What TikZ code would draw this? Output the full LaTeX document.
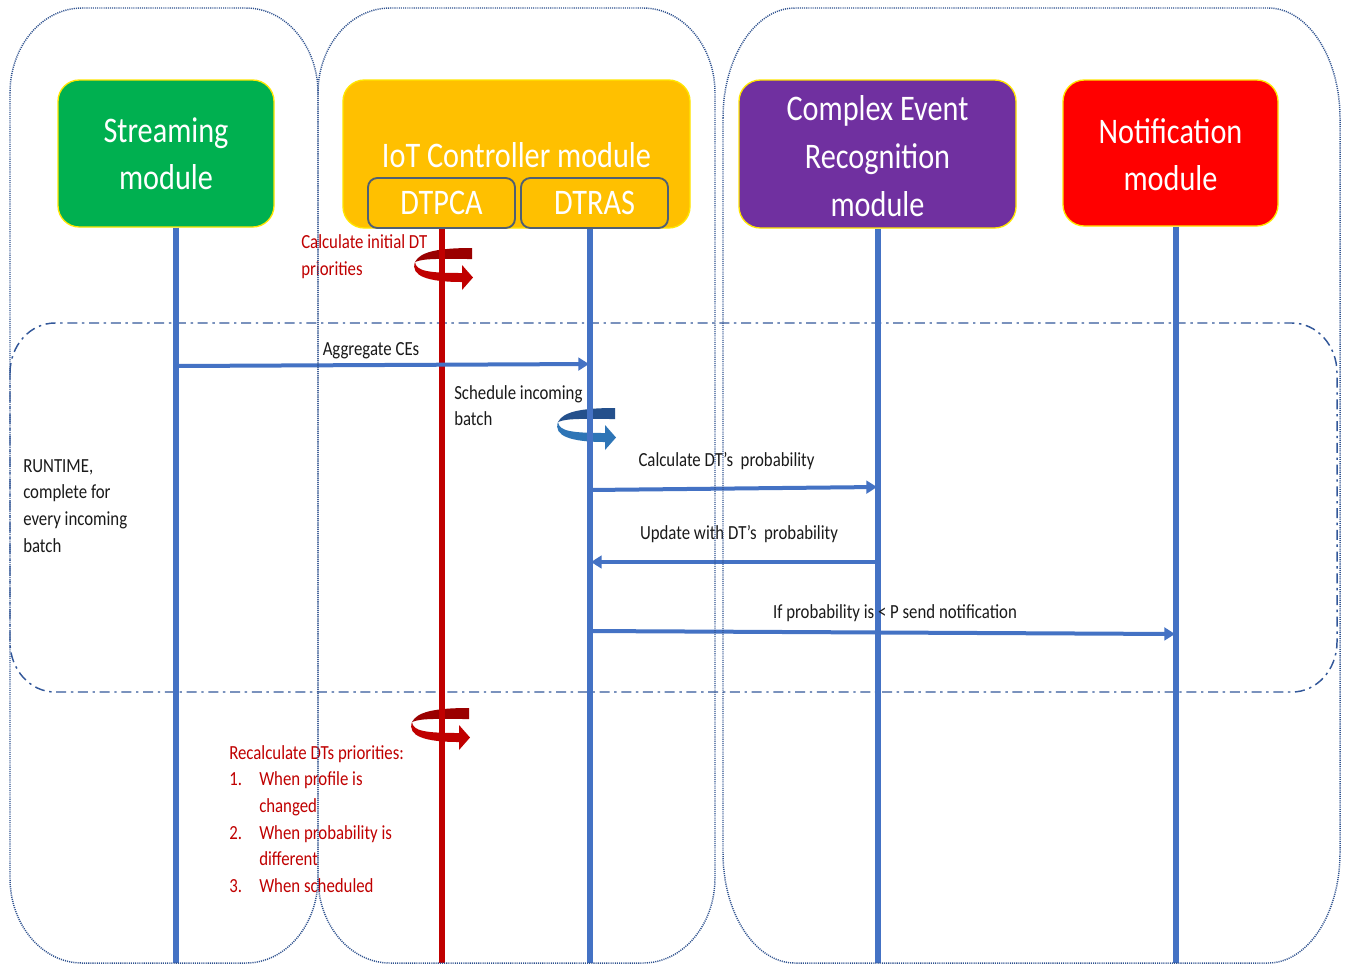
\documentclass[tikz,border=0pt]{standalone}
\usepackage{fontspec}
\setmainfont[FakeStretch=0.84]{Carlito}
\usetikzlibrary{arrows.meta}

\definecolor{lanecol}{HTML}{2F528F}
\definecolor{flowblue}{HTML}{4472C4}
\definecolor{ctrlred}{HTML}{C00000}
\definecolor{loopdarkred}{HTML}{9A0000}
\definecolor{loopdarkblue}{HTML}{24508C}
\definecolor{loopblue}{HTML}{2E75B6}
\definecolor{strgreen}{HTML}{00B050}
\definecolor{iotyellow}{HTML}{FFC000}
\definecolor{cerpurple}{HTML}{7030A0}
\definecolor{notifred}{HTML}{FF0000}
\definecolor{edgeyellow}{HTML}{FFE600}
\definecolor{subedge}{HTML}{4F5F73}
\definecolor{msgtext}{HTML}{1A1A1A}

\newcommand\bigfont{\fontsize{27}{35.5}\selectfont}
\newcommand\smallfont{\fontsize{15}{20}\selectfont}

% rounded frame with elliptical corners: style, x1, y1, x2, y2, rx, ry
\newcommand\lanebox[7]{%
  \draw[#1] (#2,{#3+#7}) .. controls (#2,{#3+0.448*#7}) and ({#2+0.448*#6},#3) .. ({#2+#6},#3)
    -- ({#4-#6},#3) .. controls ({#4-0.448*#6},#3) and (#4,{#3+0.448*#7}) .. (#4,{#3+#7})
    -- (#4,{#5-#7}) .. controls (#4,{#5-0.448*#7}) and ({#4-0.448*#6},#5) .. ({#4-#6},#5)
    -- ({#2+#6},#5) .. controls ({#2+0.448*#6},#5) and (#2,{#5-0.448*#7}) .. (#2,{#5-#7}) -- cycle;}

% ribbon-style turning arrow around a lifeline: x, y, back colour, front colour
\newcommand\turnloop[4]{%
  \fill[#3] ({#1+30},{#2-18}) .. controls ({#1-5},{#2-18}) and ({#1-22},{#2-14}) .. ({#1-27},{#2-4})
    .. controls ({#1-18},{#2-8}) and ({#1},{#2-7}) .. ({#1+30},{#2-7}) -- cycle;
  \fill[#4] ({#1-27},{#2-4}) .. controls ({#1-26},{#2+5}) and ({#1-14},{#2+7}) .. ({#1+20},{#2+7})
    -- ({#1+20},{#2-1}) -- ({#1+31},{#2+11.5}) -- ({#1+20},{#2+24}) -- ({#1+20},{#2+16})
    .. controls ({#1-14},{#2+16}) and ({#1-32},{#2+10}) .. ({#1-27},{#2-4}) -- cycle;}

\begin{document}
\begin{tikzpicture}[x=0.75pt,y=-0.75pt,
  lane/.style={draw=lanecol, line width=1.1pt, dash pattern=on 0.8pt off 0.8pt},
  runtime/.style={draw=lanecol!80!flowblue, line width=1.1pt, dash pattern=on 7.5pt off 3.5pt on 1.8pt off 3.5pt},
  modbox/.style={rounded corners=16pt, draw=edgeyellow, line width=1pt, text=white, font=\bigfont, align=center, inner sep=0},
  subbox/.style={rounded corners=7pt, draw=subedge, line width=1.4pt, fill=iotyellow, text=white, font=\bigfont, minimum width=110.25pt, minimum height=37.5pt, inner sep=0},
  lifeline/.style={draw=flowblue, line width=3.8pt},
  ctrlline/.style={draw=ctrlred, line width=3.9pt},
  msg/.style={draw=flowblue, line width=3pt, -{Triangle[length=8pt,width=9.5pt]}},
  msgtext/.style={text=msgtext, font=\smallfont, inner sep=0},
  redtext/.style={text=ctrlred, font=\smallfont, inner sep=0, align=left},
]
\fill[white] (0,0) rectangle (1345,965);
\useasboundingbox (0,0) rectangle (1345,965);

% runtime region
\lanebox{runtime}{10}{323}{1337}{692}{45}{50}

% self-activations
\turnloop{442}{266}{loopdarkred}{ctrlred}
\turnloop{585}{426}{loopdarkblue}{loopblue}
\turnloop{439}{726}{loopdarkred}{ctrlred}

% modules
\node[modbox, fill=strgreen, minimum width=162pt, minimum height=110.25pt] (stream) at (166,153.5) {Streaming\\module};
\node[modbox, fill=iotyellow, minimum width=260.25pt, minimum height=111pt] (iot) at (516.5,154) {};
\node[text=white, font=\bigfont, inner sep=0] (iottitle) at (516.5,155) {IoT Controller module};
\node[subbox] (dtpca) at (441.5,203) {DTPCA};
\node[subbox] (dtras) at (594.5,203) {DTRAS};
\node[modbox, fill=cerpurple, minimum width=207.75pt, minimum height=111pt] (cer) at (877.5,154) {};
\node[text=white, font=\fontsize{27}{36}\selectfont, align=center, inner sep=0] (certitle) at (877.5,156) {Complex Event\\Recognition\\module};
\node[modbox, fill=notifred, minimum width=161.25pt, minimum height=109.5pt] (notif) at (1170.5,153) {};
\node[text=white, font=\bigfont, align=center, inner sep=0] (notiftitle) at (1170.5,155) {Notification\\module};

% lifelines
\coordinate (sBot) at (176,963);
\coordinate (pBot) at (442,963);
\coordinate (rBot) at (590,963);
\coordinate (cBot) at (878,963);
\coordinate (nBot) at (1176,963);
\draw[lifeline] (stream.south -| sBot) -- (sBot);
\draw[ctrlline] (dtpca.south -| pBot) -- (pBot);
\draw[lifeline] (dtras.south -| rBot) -- (rBot);
\draw[lifeline] (cer.south -| cBot) -- (cBot);
\draw[lifeline] (notif.south -| nBot) -- (nBot);

% messages
\coordinate (aggFrom) at (176,366);  \coordinate (aggTo) at (589,364);
\coordinate (calcFrom) at (590,490); \coordinate (calcTo) at (877,487);
\coordinate (updFrom) at (878,562);  \coordinate (updTo) at (591,562);
\coordinate (ntfFrom) at (590,631);  \coordinate (ntfTo) at (1175,634);
\draw[msg] (aggFrom) -- (aggTo);
\draw[msg] (calcFrom) -- (calcTo);
\draw[msg] (updFrom) -- (updTo);
\draw[msg] (ntfFrom) -- (ntfTo);

% labels
\node[msgtext, anchor=base] (aggLbl) at (371,355) {Aggregate CEs};
\node[msgtext, anchor=base] (calcLbl) at (726.5,466) {Calculate DT’s\ \ probability};
\node[msgtext, anchor=base] (updLbl) at (739,539) {Update with DT’s\ \ probability};
\node[msgtext, anchor=base] (ntfLbl) at (895,618) {If probability is < P send notification};
\node[msgtext, anchor=north west, align=left] (schedLbl) at (454,380.3) {\strut Schedule incoming\\batch};
\node[msgtext, anchor=north west, align=left] (runLbl) at (23,453.3) {\strut RUNTIME,\\complete for\\every incoming\\batch};
\node[redtext, anchor=north west] (initLbl) at (301,229.8) {\strut Calculate initial DT\\priorities};
\node[redtext, anchor=north west] (recalcLbl) at (229,740.3) {\strut Recalculate DTs priorities:\\
  \makebox[22.5pt][l]{1.}When profile is\\\hspace*{22.5pt}changed\\
  \makebox[22.5pt][l]{2.}When probability is\\\hspace*{22.5pt}different\\
  \makebox[22.5pt][l]{3.}When scheduled};

% swim lanes
\lanebox{lane}{10}{8}{318}{963}{72}{85}
\lanebox{lane}{318}{8}{715}{963}{72}{85}
\lanebox{lane}{723}{8}{1340}{963}{72}{110}
\end{tikzpicture}
\end{document}
